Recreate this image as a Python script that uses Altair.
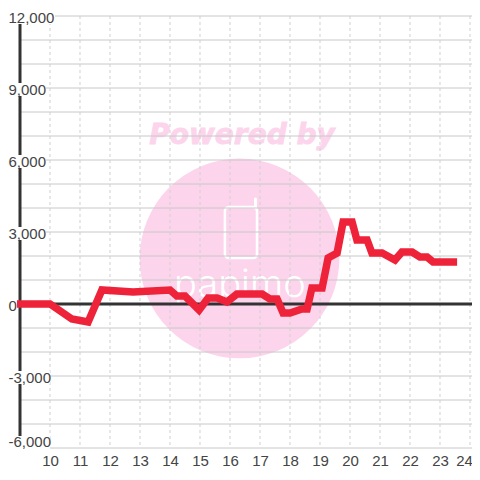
import altair as alt
import pandas as pd

hours = [8.9, 9.5, 10, 10.73, 11.27, 11.73, 12.77, 14, 14.23, 14.5, 14.97, 15.27, 15.57, 15.9, 16.23,
         17.07, 17.33, 17.57, 17.77, 18, 18.4, 18.57, 18.73, 19.07, 19.27, 19.57, 19.77, 20.07,
         20.23, 20.57, 20.73, 21.07, 21.5, 21.73, 22.07, 22.33, 22.57, 22.77, 23.57]
values = [0, 0, 0, -625, -750, 583, 500, 583, 333, 333, -250, 250, 250, 83, 417,
          417, 208, 208, -375, -375, -208, -208, 667, 667, 1917, 2125, 3417, 3417,
          2667, 2667, 2125, 2125, 1833, 2167, 2167, 1958, 1958, 1750, 1750]
x_ticks = list(range(10, 25))
y_grid = list(range(-6000, 12001, 1000))
y_labels = [-6000, -3000, 0, 3000, 6000, 9000, 12000]

PX = 1000 / 24
XD = [9, 24.0667]
YD = [-6000, 12000]
x_scale = alt.Scale(domain=XD, nice=False, zero=False)
y_scale = alt.Scale(domain=YD, nice=False, zero=False)

PINK = "#fcd5ec"
GRID = "#c8c8c8"
DARK = "#333333"
FONT = "Liberation Sans"

x_axis = alt.Axis(values=x_ticks, format="d", grid=False, domain=False, ticks=False, title=None,
                  labelFontSize=15, labelFont=FONT, labelColor="#444444", labelPadding=5,
                  labelOverlap=False, labelBound=False, zindex=1,
                  labelOffset={"condition": {"test": "datum.value == 24", "value": -6}, "value": 0})
y_axis = alt.Axis(values=y_labels, grid=False, domain=False, ticks=False, title=None,
                  labelExpr="(datum.value < 0 ? '-' : '') + format(abs(datum.value), ',.0f')",
                  labelFontSize=15, labelFont=FONT, labelColor="#444444", labelPadding=12,
                  labelAlign="left", labelBound=False, labelOverlap=False, zindex=1,
                  labelOffset={"condition": {"test": "datum.value == -6000", "value": -7}, "value": 1})
X = lambda f: alt.X(f, type="quantitative", scale=x_scale, axis=x_axis)
Y = lambda f: alt.Y(f, type="quantitative", scale=y_scale, axis=y_axis)

circle = alt.Chart(pd.DataFrame({"h": [16.317], "v": [1896]})).mark_point(
    filled=True, shape="circle", size=39900, color=PINK, opacity=1, clip=False
).encode(x=X("h"), y=Y("v"))

powered = alt.Chart(pd.DataFrame({"h": [16.4], "v": [7000], "t": ["Powered by"]})).mark_text(
    font="DejaVu Sans", fontWeight="bold", fontStyle="italic", fontSize=28, color=PINK,
    stroke=PINK, strokeWidth=0.8, align="center", baseline="middle", clip=False
).encode(x=X("h"), y=Y("v"), text="t:N")

phone = alt.Chart(pd.DataFrame({"h": [15.83], "h2": [16.9], "v": [4042], "v2": [1917]})).mark_rect(
    fillOpacity=0, stroke="white", strokeWidth=2.5, cornerRadius=4
).encode(x=X("h"), x2="h2:Q", y=Y("v"), y2="v2:Q")

antenna = alt.Chart(pd.DataFrame({"h": [16.85], "v": [4375], "v2": [4000]})).mark_rule(
    color="white", strokeWidth=3, strokeCap="round"
).encode(x=X("h"), y=Y("v"), y2="v2:Q")

brand = alt.Chart(pd.DataFrame({"h": [16.33], "v": [290], "t": ["papimo"]})).mark_text(
    font="Inter", fontSize=38, fontWeight=300, color="white", align="center", baseline="alphabetic"
).encode(x=X("h"), y=Y("v"), text="t:N")

hgrid = alt.Chart(pd.DataFrame({"v": y_grid})).mark_rule(color=GRID, strokeWidth=1).encode(y=Y("v"))
vgrid = alt.Chart(pd.DataFrame({"h": x_ticks})).mark_rule(
    color="#d0d0d0", strokeWidth=1, strokeDash=[3, 3]
).encode(x=X("h"))

zero = alt.Chart(pd.DataFrame({"v": [0]})).mark_rule(color=DARK, strokeWidth=3).encode(y=Y("v"))
yaxis = alt.Chart(pd.DataFrame({"h": [9]})).mark_rule(color=DARK, strokeWidth=3).encode(x=X("h"))

# white plates behind the value labels
plates = []
for v in y_labels:
    right = {12000: 55, 0: 17, -3000: 50, -6000: 50}.get(v, 46)
    top, bottom = (-12, 2) if v == -6000 else (-5, 8)
    if v == 12000:
        top, bottom = (-6, 8)
    plates.append({"h": 8.6, "h2": 9 + (right - 20) / 30, "v": v - top * PX, "v2": v - bottom * PX})
plate = alt.Chart(pd.DataFrame(plates)).mark_rect(color="white", opacity=1, clip=False).encode(
    x=X("h"), x2="h2:Q", y=Y("v"), y2="v2:Q"
)

series = alt.Chart(pd.DataFrame({"h": hours, "v": values})).mark_line(
    color="#EE2238", strokeWidth=7.5, strokeJoin="miter", strokeCap="butt", interpolate="linear",
    clip=False
).encode(x=X("h"), y=Y("v"), order=alt.Order("h:Q"))

chart = alt.layer(
    circle, powered, phone, antenna, brand, hgrid, vgrid, zero, yaxis, plate, series
).properties(
    width=452, height=432,
    padding={"left": 12, "top": 8, "right": 0, "bottom": 24},
    autosize=alt.AutoSizeParams(type="none"),
    background="white",
).configure_view(stroke=None)

chart.save("out.html", embed_options={"renderer": "svg", "actions": False})
